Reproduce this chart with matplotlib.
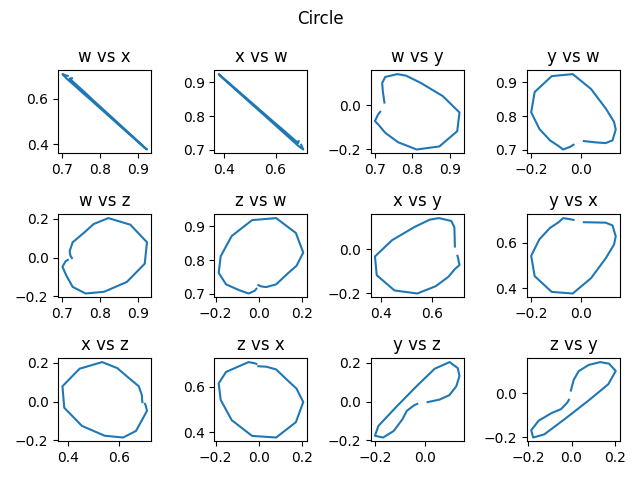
import matplotlib
matplotlib.use("Agg")
import matplotlib.pyplot as plt

# quaternion components along the path
w = [0.726, 0.722, 0.720, 0.728, 0.760, 0.783, 0.822, 0.880, 0.924, 0.918,
     0.871, 0.811, 0.762, 0.728, 0.711, 0.701, 0.709, 0.715]
x = [0.690, 0.689, 0.688, 0.676, 0.628, 0.592, 0.533, 0.445, 0.378, 0.385,
     0.454, 0.543, 0.615, 0.665, 0.690, 0.708, 0.703, 0.700]
y = [0.012, 0.060, 0.100, 0.128, 0.141, 0.134, 0.101, 0.041, -0.033, -0.118,
     -0.187, -0.201, -0.168, -0.125, -0.090, -0.072, -0.043, -0.030]
z = [-0.003, 0.010, 0.033, 0.079, 0.132, 0.173, 0.204, 0.170, 0.079, -0.032,
     -0.126, -0.177, -0.186, -0.152, -0.092, -0.048, -0.020, -0.012]

comps = {"w": w, "x": x, "y": y, "z": z}
pairs = [("w", "x"), ("x", "w"), ("w", "y"), ("y", "w"),
         ("w", "z"), ("z", "w"), ("x", "y"), ("y", "x"),
         ("x", "z"), ("z", "x"), ("y", "z"), ("z", "y")]

fig, axes = plt.subplots(3, 4, figsize=(6.4, 4.8), dpi=100)
for ax, (a, b) in zip(axes.flat, pairs):
    ax.plot(comps[a], comps[b])
    ax.set_title("{} vs {}".format(a, b))
fig.suptitle("Circle")
fig.tight_layout()
fig.savefig("out.png")
